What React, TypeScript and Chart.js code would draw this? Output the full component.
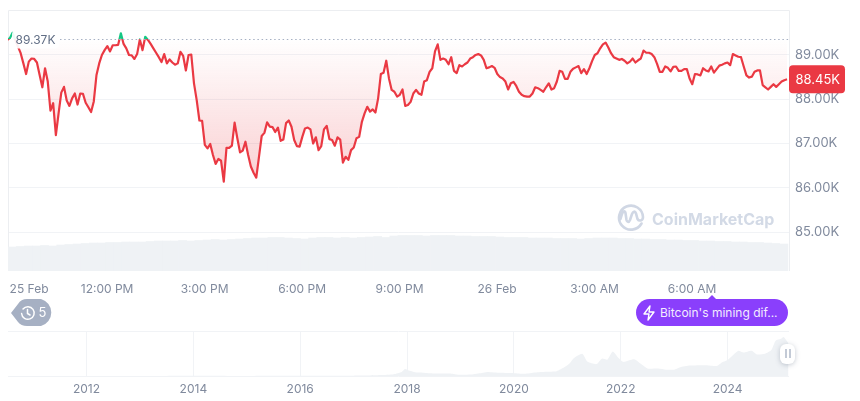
import React, { useEffect, useRef } from "react";
import { Chart, registerables } from "chart.js";

Chart.register(...registerables);

const prices = [
  89.34, 89.38, 89.5, 89.34, 89.19, 89.04, 88.81, 88.57, 88.85, 88.92, 88.91, 88.83, 88.55, 88.27, 88.7, 88.4,
  87.74, 87.91, 87.19, 87.68, 88.15, 88.28, 87.97, 87.85, 88.02, 88.13, 87.88, 88.13, 88.12, 87.92, 87.82, 87.71,
  87.95, 88.55, 88.81, 89.0, 89.11, 89.2, 89.08, 89.22, 89.22, 89.23, 89.49, 89.25, 89.15, 89.0, 88.99, 88.91,
  89.02, 89.35, 89.11, 89.41, 89.34, 89.25, 89.15, 89.05, 88.95, 88.84, 89.02, 88.81, 88.9, 88.83, 88.78, 88.81,
  89.07, 88.98, 88.65, 89.0, 89.01, 88.36, 87.98, 87.52, 87.51, 86.97, 86.89, 86.99, 86.74, 86.54, 86.65, 86.61,
  86.14, 86.9, 86.9, 86.95, 87.47, 87.12, 86.8, 86.84, 87.04, 86.74, 86.48, 86.34, 86.23, 86.7, 87.17, 87.24,
  87.48, 87.38, 87.37, 87.26, 87.36, 87.06, 87.09, 87.46, 87.52, 87.38, 87.08, 86.94, 86.93, 87.15, 87.34, 87.36,
  87.32, 87.0, 87.14, 86.85, 86.94, 87.32, 87.4, 87.1, 87.08, 86.95, 87.14, 87.09, 86.57, 86.7, 86.63, 86.85,
  86.91, 87.12, 87.15, 87.49, 87.68, 87.83, 87.72, 87.77, 87.7, 88.02, 88.57, 88.6, 88.87, 88.47, 88.21, 88.17,
  88.06, 88.1, 88.22, 87.85, 87.87, 87.94, 88.13, 88.21, 88.13, 88.1, 88.4, 88.43, 88.62, 88.7, 89.08, 89.24,
  88.89, 88.92, 88.89, 88.79, 88.95, 88.64, 88.59, 88.77, 88.74, 88.79, 88.83, 88.92, 88.95, 89.0, 89.02, 88.99,
  88.89, 88.7, 88.72, 88.75, 88.71, 88.57, 88.5, 88.47, 88.4, 88.22, 88.36, 88.39, 88.3, 88.17, 88.1, 88.07,
  88.06, 88.06, 88.13, 88.27, 88.25, 88.21, 88.17, 88.27, 88.36, 88.22, 88.25, 88.4, 88.64, 88.62, 88.46, 88.46,
  88.62, 88.69, 88.72, 88.75, 88.59, 88.68, 88.57, 88.7, 88.86, 89.0, 89.04, 89.15, 89.24, 89.28, 89.17, 89.04,
  88.95, 88.92, 88.89, 88.91, 88.87, 88.81, 88.85, 88.92, 88.83, 88.88, 88.92, 89.1, 89.05, 89.05, 89.02, 88.95,
  88.8, 88.62, 88.62, 88.74, 88.71, 88.63, 88.73, 88.74, 88.64, 88.64, 88.68, 88.68, 88.47, 88.34, 88.57, 88.56,
  88.54, 88.7, 88.65, 88.63, 88.74, 88.6, 88.68, 88.76, 88.78, 88.81, 88.83, 88.77, 89.02, 88.99, 88.96, 88.95,
  88.74, 88.54, 88.49, 88.51, 88.62, 88.65, 88.65, 88.32, 88.27, 88.22, 88.28, 88.34, 88.28, 88.34, 88.4, 88.43,
  88.45,
];

const volumes = [
  24, 24.5, 25, 25, 25.5, 25, 26, 26.5, 27, 27.5, 28, 28, 28.5, 28.5, 29, 29,
  29, 29.5, 30, 30, 30, 30.5, 30, 30.5, 31, 31.5, 31, 31.5, 32, 32.5, 33, 33,
  33.5, 33.5, 33, 32.5, 32, 33, 33.5, 33.5, 33, 33.5, 33, 33.5, 34, 34.5, 33.5, 35,
  35.5, 35.5, 35.5, 35, 35.5, 35.5, 35.5, 35, 35, 34.5, 34.5, 34.5, 34, 33.5, 33.5, 33.5,
  33, 33, 33, 32.5, 32.5, 32.5, 32, 32.5, 33, 33, 33, 32.5, 32.5, 32, 32, 31.5,
  31.5, 31, 31, 30.5, 30.5, 30, 30, 29.5, 29.5, 29, 29, 28.5, 28.5, 28, 27.5, 27,
];

const overviewYears = [
  2010.5, 2012, 2013, 2013.85, 2014, 2015, 2016, 2016.5, 2017, 2017.25, 2017.5, 2017.75, 2017.9, 2017.96, 2018.05,
  2018.15, 2018.3, 2018.5, 2018.8, 2018.95, 2019.2, 2019.4, 2019.5, 2019.75, 2020, 2020.2, 2020.4, 2020.6, 2020.8,
  2020.95, 2021.05, 2021.12, 2021.28, 2021.38, 2021.55, 2021.65, 2021.75, 2021.85, 2021.95, 2022.05, 2022.25,
  2022.4, 2022.5, 2022.7, 2022.85, 2023, 2023.1, 2023.3, 2023.6, 2023.8, 2023.9, 2024, 2024.2, 2024.3, 2024.45,
  2024.55, 2024.7, 2024.82, 2024.9, 2025, 2025.05, 2025.1, 2025.14,
];
const overviewPrices = [
  0, 0, 0.1, 1, 0.8, 0.3, 0.4, 0.65, 1, 1.2, 2.5, 5, 11, 19, 14,
  10, 9, 7, 6.5, 3.5, 4, 8, 11, 8.5, 7.5, 6, 9.5, 11.5, 13,
  24, 35, 48, 60, 38, 32, 47, 44, 66, 50, 38, 45,
  30, 20, 20, 17, 17, 23, 28, 29, 27, 37, 43, 68, 63, 68,
  58, 60, 70, 95, 100, 105, 96, 88,
];

const priceTicks = [85, 86, 87, 88, 89];
const timeTicks = [540, 720, 900, 1080, 1260, 1440, 1620, 1800, 1979];
const timeLabels = ["25 Feb", "12:00 PM", "3:00 PM", "6:00 PM", "9:00 PM", "26 Feb", "3:00 AM", "6:00 AM", ""];
const yearTicks = [2012, 2014, 2016, 2018, 2020, 2022, 2024];

const baseline = 89.37;
const lastPrice = 88.45;
const firstMinute = 535.4;
const priceStepMinutes = 5;
const volumeStepMinutes = 15;

const FONT = "Inter, 'Noto Sans', sans-serif";
const AXIS = "#808a9d";
const GRID = "#f1f3f6";
const FRAME = "#eceef1";
const RED = "#ea3943";
const GREEN = "#16c784";
const AREA = "#eff2f5";

function roundRect(ctx: CanvasRenderingContext2D, x: number, y: number, w: number, h: number, r: number) {
  ctx.beginPath();
  ctx.roundRect(x, y, w, h, r);
}

function noAxisPadding(s: any) {
  s.paddingLeft = 0;
  s.paddingRight = 0;
  s.paddingTop = 0;
  s.paddingBottom = 0;
}

const mainOverlay = {
  id: "mainOverlay",
  beforeDatasetsDraw(chart: any) {
    const { ctx, chartArea: a } = chart;
    ctx.save();
    ctx.strokeStyle = FRAME;
    ctx.lineWidth = 1;
    ctx.beginPath();
    ctx.moveTo(a.left + 0.5, a.bottom);
    ctx.lineTo(a.left + 0.5, a.top + 0.5);
    ctx.lineTo(a.right + 0.5, a.top + 0.5);
    ctx.lineTo(a.right + 0.5, a.bottom);
    ctx.stroke();
    ctx.restore();
  },
  afterDatasetsDraw(chart: any) {
    const { ctx, chartArea: a, scales } = chart;
    const yb = Math.round(scales.y.getPixelForValue(baseline)) + 0.5;
    ctx.save();
    ctx.strokeStyle = "#a6b0c3";
    ctx.lineWidth = 1;
    ctx.setLineDash([1.5, 2.7]);
    ctx.beginPath();
    ctx.moveTo(a.left + 52, yb);
    ctx.lineTo(a.right, yb);
    ctx.stroke();
    ctx.setLineDash([]);
    ctx.fillStyle = "rgba(255,255,255,0.92)";
    roundRect(ctx, 12, yb - 9, 47, 18, 4);
    ctx.fill();
    ctx.fillStyle = "#616e85";
    ctx.font = `12px ${FONT}`;
    ctx.textBaseline = "middle";
    ctx.textAlign = "left";
    ctx.fillText(`${baseline.toFixed(2)}K`, 15.5, yb + 0.5);

    const yl = scales.y.getPixelForValue(lastPrice);
    ctx.fillStyle = RED;
    roundRect(ctx, 789, yl - 14, 56, 28, 4);
    ctx.fill();
    ctx.fillStyle = "#ffffff";
    ctx.font = `13px ${FONT}`;
    ctx.fillText(`${lastPrice.toFixed(2)}K`, 795.5, yl + 0.5);
    ctx.restore();
  },
};

const overviewFrame = {
  id: "overviewFrame",
  beforeDatasetsDraw(chart: any) {
    const { ctx, chartArea: a } = chart;
    ctx.save();
    ctx.strokeStyle = GRID;
    ctx.lineWidth = 1;
    ctx.beginPath();
    ctx.moveTo(a.left, a.top + 0.5);
    ctx.lineTo(a.right, a.top + 0.5);
    ctx.moveTo(a.left, a.bottom + 0.5);
    ctx.lineTo(a.right, a.bottom + 0.5);
    ctx.stroke();
    ctx.restore();
  },
};

export default function App() {
  const mainRef = useRef<HTMLCanvasElement>(null);
  const overviewRef = useRef<HTMLCanvasElement>(null);

  useEffect(() => {
    document.body.style.margin = "0";
    const main = new Chart(mainRef.current!, {
      data: {
        datasets: [
          {
            type: "line",
            label: "Price",
            data: prices.map((p, i) => ({ x: firstMinute + i * priceStepMinutes, y: p })),
            yAxisID: "y",
            borderColor: RED,
            borderWidth: 2.2,
            pointRadius: 0,
            tension: 0,
            borderJoinStyle: "round",
            fill: { target: { value: baseline }, above: "rgba(22,199,132,0.2)", below: "rgba(234,57,67,0.1)" },
            order: 1,
          },
          {
            type: "bar",
            label: "Volume",
            data: volumes.map((v, i) => ({ x: 537 + volumeStepMinutes * (i + 0.5), y: v })),
            yAxisID: "v",
            backgroundColor: AREA,
            barPercentage: 1,
            categoryPercentage: 1,
            order: 2,
          },
        ],
      } as any,
      options: {
        animation: false,
        responsive: false,
        layout: { padding: { left: 8, top: 10, right: 0, bottom: 0 } },
        plugins: { legend: { display: false }, tooltip: { enabled: false } },
        scales: {
          x: {
            type: "linear",
            offset: false,
            min: 537,
            max: 1979,
            afterBuildTicks: (s: any) => {
              s.ticks = timeTicks.map((value) => ({ value }));
            },
            afterFit: (s: any) => {
              s.height = 29;
              noAxisPadding(s);
            },
            grid: { display: false, offset: false },
            border: { display: false },
            ticks: {
              autoSkip: false,
              maxRotation: 0,
              align: "inner",
              padding: 3,
              color: AXIS,
              font: { family: FONT, size: 12 },
              callback: (v: any) => timeLabels[timeTicks.indexOf(Number(v))] ?? "",
            },
          },
          y: {
            position: "right",
            min: 84.12,
            max: 90.016,
            afterBuildTicks: (s: any) => {
              s.ticks = priceTicks.map((value) => ({ value }));
            },
            afterFit: (s: any) => {
              s.width = 71;
              noAxisPadding(s);
            },
            grid: { color: GRID, drawTicks: false },
            border: { display: false },
            ticks: {
              padding: 6,
              color: AXIS,
              font: { family: FONT, size: 13 },
              callback: (v: any) => `${Number(v).toFixed(2)}K`,
            },
          },
          v: { display: false, min: 0, max: 261 },
        },
      } as any,
      plugins: [mainOverlay],
    });

    // area gradients and stroke split depend on the scale's pixel position of the baseline
    const c = main.ctx;
    const a = main.chartArea;
    const sy = main.scales.y;
    const yb = sy.getPixelForValue(baseline);
    const yLow = sy.getPixelForValue(Math.min(...prices));
    const below = c.createLinearGradient(0, yb, 0, yLow);
    below.addColorStop(0, "rgba(234,57,67,0)");
    below.addColorStop(1, "rgba(234,57,67,0.24)");
    const above = c.createLinearGradient(0, a.top, 0, yb);
    above.addColorStop(0, "rgba(22,199,132,0.25)");
    above.addColorStop(1, "rgba(22,199,132,0)");
    const stroke = c.createLinearGradient(0, a.top, 0, a.bottom);
    const split = (yb - a.top) / (a.bottom - a.top);
    stroke.addColorStop(0, GREEN);
    stroke.addColorStop(split, GREEN);
    stroke.addColorStop(split, RED);
    stroke.addColorStop(1, RED);
    const ds: any = main.data.datasets[0];
    ds.borderColor = stroke;
    ds.fill = { target: { value: baseline }, above, below };
    main.update();

    const overview = new Chart(overviewRef.current!, {
      type: "line",
      data: {
        datasets: [
          {
            label: "History",
            data: overviewYears.map((x, i) => ({ x, y: overviewPrices[i] })),
            borderWidth: 0,
            pointRadius: 0,
            backgroundColor: AREA,
            fill: "origin",
            tension: 0.2,
          },
        ],
      },
      options: {
        animation: false,
        responsive: false,
        layout: { padding: { left: 8, top: 11, right: 71, bottom: 0 } },
        plugins: { legend: { display: false }, tooltip: { enabled: false } },
        scales: {
          x: {
            type: "linear",
            min: 2010.53,
            max: 2025.15,
            afterBuildTicks: (s: any) => {
              s.ticks = yearTicks.map((value) => ({ value }));
            },
            afterFit: (s: any) => {
              s.height = 25;
              noAxisPadding(s);
            },
            grid: { color: GRID, drawTicks: false },
            border: { display: false },
            ticks: {
              autoSkip: false,
              maxRotation: 0,
              padding: 6,
              color: AXIS,
              font: { family: FONT, size: 12 },
              callback: (v: any) => String(v),
            },
          },
          y: { display: false, min: 0, max: 121 },
        },
      } as any,
      plugins: [overviewFrame],
    });

    return () => {
      main.destroy();
      overview.destroy();
    };
  }, []);

  const abs: React.CSSProperties = { position: "absolute", fontFamily: FONT };

  return (
    <div style={{ position: "relative", width: 860, height: 401, overflow: "hidden", background: "#fff" }}>
      <canvas ref={mainRef} width={860} height={300} style={{ position: "absolute", left: 0, top: 0 }} />
      <canvas ref={overviewRef} width={860} height={81} style={{ position: "absolute", left: 0, top: 320 }} />

      {/* watermark */}
      <svg width="28" height="28" viewBox="0 0 28 28" style={{ position: "absolute", left: 617, top: 204 }}>
        <path
          d="M24.5 19.5 A12 12 0 1 1 26 13 C26 17 22 17.5 20.5 15 L19 9.5 C18 6.5 16 7.5 15 10 L13 16 C12 18.5 10 18.5 9.5 16 L8.5 9 C8 6.5 6 7 5 10 L3.5 15"
          fill="none"
          stroke="#d0d7e4"
          strokeWidth="2.6"
          strokeLinecap="round"
        />
      </svg>
      <div style={{ ...abs, left: 652, top: 208, fontSize: 16, fontWeight: 700, color: "#d3dae6", lineHeight: "22px", whiteSpace: "nowrap" }}>
        CoinMarketCap
      </div>

      {/* history pill */}
      <svg width="46" height="30" style={{ position: "absolute", left: 9, top: 298 }}>
        <path d="M2 15 L9 6 Q12 1 18 1 H32 A14 14 0 0 1 32 28 H18 Q12 28 9 24 Z" fill="#a6b0c3" />
        <g fill="none" stroke="#fff" strokeWidth="1.5" strokeLinecap="round">
          <path d="M14 11 A6.3 6.3 0 1 1 12.6 15.5" />
          <path d="M18.5 11.5 V15.5 L21 17" />
        </g>
      </svg>
      <div style={{ ...abs, left: 38.5, top: 304, fontSize: 13, color: "#fff", lineHeight: "17px" }}>5</div>

      {/* event pill */}
      <div style={{ ...abs, left: 636, top: 299, width: 152, height: 27, borderRadius: 14, background: "#8a3ffc" }} />
      <svg width="12" height="5" style={{ position: "absolute", left: 706, top: 295 }}>
        <path d="M1 5 L6 0 L11 5 Z" fill="#8a3ffc" />
      </svg>
      <svg width="14" height="16" viewBox="0 0 14 16" style={{ position: "absolute", left: 642, top: 305 }}>
        <path d="M8 1 L2 9 H7 L6 15 L12 7 H7 Z" fill="none" stroke="#fff" strokeWidth="1.4" strokeLinejoin="round" />
      </svg>
      <div style={{ ...abs, left: 660, top: 304, fontSize: 12, color: "#f3ecff", lineHeight: "17px", whiteSpace: "nowrap" }}>
        Bitcoin's mining dif...
      </div>

      {/* range handle */}
      <div style={{ ...abs, left: 780, top: 344, width: 15, height: 20, borderRadius: 6, background: "#fff", boxShadow: "0 1px 5px rgba(88,102,126,0.35)" }} />
      <div style={{ ...abs, left: 785, top: 349, width: 1.5, height: 9, background: "#c3cad6" }} />
      <div style={{ ...abs, left: 789, top: 349, width: 1.5, height: 9, background: "#c3cad6" }} />
    </div>
  );
}
